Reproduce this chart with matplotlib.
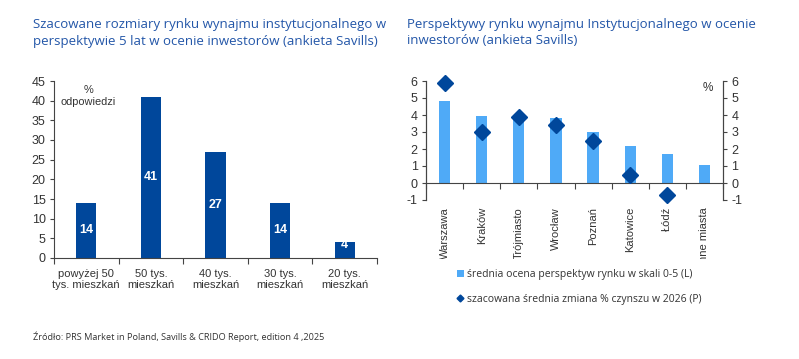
import matplotlib
matplotlib.use("Agg")
import matplotlib.pyplot as plt
from matplotlib.lines import Line2D
from matplotlib.patches import Patch
from matplotlib.transforms import Bbox, TransformedBbox, ScaledTranslation

# ---- data ----
left_categories = ["powyżej 50\ntys. mieszkań", "50 tys.\nmieszkań", "40 tys.\nmieszkań",
                   "30 tys.\nmieszkań", "20 tys.\nmieszkań"]
left_values = [14, 41, 27, 14, 4]
left_yticks = [0, 5, 10, 15, 20, 25, 30, 35, 40, 45]

right_categories = ["Warszawa", "Kraków", "Trójmiasto", "Wrocław", "Poznań",
                    "Katowice", "Łódź", "Inne miasta"]
right_scores = [4.85, 3.95, 3.8, 3.82, 2.98, 2.15, 1.73, 1.07]
right_rent_change = [5.88, 2.98, 3.88, 3.4, 2.48, 0.48, -0.7, None]
right_yticks = [-1, 0, 1, 2, 3, 4, 5, 6]

title_left = "Szacowane rozmiary rynku wynajmu instytucjonalnego w\nperspektywie 5 lat w ocenie inwestorów (ankieta Savills)"
title_right = "Perspektywy rynku wynajmu Instytucjonalnego w ocenie\ninwestorów (ankieta Savills)"
legend_labels = ["średnia ocena perspektyw rynku w skali 0-5 (L)",
                 "szacowana średnia zmiana % czynszu w 2026 (P)"]
source_text = "Źródło: PRS Market in Poland, Savills & CRIDO Report, edition 4 ,2025"

# ---- style ----
DARK = "#00479b"
LIGHT = "#4faaf7"
TITLE_C = "#2356a8"
TXT = "#333333"
AX = "#444444"
TFONT = ["Open Sans", "DejaVu Sans"]
NFONT = ["Liberation Sans", "DejaVu Sans"]

W, H = 799, 359
fig = plt.figure(figsize=(W / 100, H / 100), dpi=100)

def fx(px):
    return px / W

def fy(py):
    return 1 - py / H

# titles
fig.text(fx(33), fy(18), title_left, ha="left", va="top", fontsize=9.5,
         color=TITLE_C, family=TFONT, linespacing=1.35)
fig.text(fx(407), fy(18), title_right, ha="left", va="top", fontsize=9.5,
         color=TITLE_C, family=TFONT, linespacing=1.35)

# ---- left chart ----
ax1 = fig.add_axes([fx(54), fy(258), fx(377) - fx(54), fy(81) - fy(258)])
xs = list(range(len(left_values)))
ax1.bar(xs, left_values, width=0.31, color=DARK, zorder=2)
for x, v in zip(xs, left_values):
    ax1.text(x, max(v / 2, 3.2), str(v), ha="center", va="center", color="white",
             fontsize=9, fontweight="bold", family=NFONT)
ax1.set_xlim(-0.5, len(left_values) - 0.5)
ax1.set_ylim(0, 45)
ax1.set_yticks(left_yticks)
ax1.set_yticklabels([str(t) for t in left_yticks], family=NFONT, fontsize=9, color=TXT)
ax1.set_xticks([i + 0.5 for i in range(-1, len(left_values))])
ax1.set_xticklabels([])
ax1.set_xticks(xs, minor=True)
ax1.set_xticklabels(left_categories, minor=True, family=NFONT, fontsize=8,
                    color=TXT, linespacing=1.1)
ax1.tick_params(axis="x", which="minor", length=0, pad=8)
ax1.tick_params(axis="x", which="major", length=4, color=AX, direction="out")
ax1.tick_params(axis="y", length=3, color=AX, direction="out", pad=3)
for s in ["top", "right"]:
    ax1.spines[s].set_visible(False)
for s in ["left", "bottom"]:
    ax1.spines[s].set_color(AX)
    ax1.spines[s].set_linewidth(0.8)
ax1.text(0.03, 41.3, "%\nodpowiedzi", ha="center", va="center", fontsize=7.9,
         color=TXT, family=NFONT, linespacing=1.25)

# ---- right chart ----
ax2 = fig.add_axes([fx(426), fy(200), fx(723) - fx(426), fy(81) - fy(200)])
xr = list(range(len(right_categories)))
ax2.bar(xr, right_scores, width=0.3, color=LIGHT, zorder=2)
ax3 = ax2.twinx()
pts = [(x, v) for x, v in zip(xr, right_rent_change) if v is not None]
ax3.plot([p[0] for p in pts], [p[1] for p in pts], linestyle="none", marker="D",
         markersize=8, color=DARK, zorder=3, clip_on=False)
for a in (ax2, ax3):
    a.set_ylim(-1, 6)
    a.set_yticks(right_yticks)
    a.set_xlim(-0.5, len(right_categories) - 0.5)
ax2.set_yticklabels([str(t) for t in right_yticks], family=NFONT, fontsize=9, color=TXT)
ax3.set_yticklabels([str(t) for t in right_yticks], family=NFONT, fontsize=9, color=TXT)
ax2.tick_params(axis="y", length=3, color=AX, direction="out", pad=3)
ax3.tick_params(axis="y", length=3, color=AX, direction="out", pad=3)
ax2.spines["bottom"].set_position(("data", 0))
for a in (ax2, ax3):
    a.spines["top"].set_visible(False)
    for s in ["left", "right", "bottom"]:
        a.spines[s].set_color(AX)
        a.spines[s].set_linewidth(0.8)
ax3.spines["bottom"].set_visible(False)
ax2.set_xticks([i + 0.5 for i in range(-1, len(right_categories))])
ax2.set_xticklabels([])
ax2.tick_params(axis="x", length=4, color=AX, direction="out")
label_tr = ax2.transData + ScaledTranslation(0, -5 / 72, fig.dpi_scale_trans)
clipbox = TransformedBbox(Bbox.from_extents(0, fy(259), 1, 1), fig.transFigure)
for x, lab in zip(xr, right_categories):
    t = ax2.text(x, -1, lab, rotation=90, ha="center", va="top", fontsize=8,
                 color=TXT, family=NFONT, transform=label_tr)
    t.set_clip_box(clipbox)
    t.set_clip_on(True)
ax3.text(7.1, 5.6, "%", ha="center", va="center", fontsize=8.5, color=TXT,
         family=NFONT)

# legend
handles = [Patch(facecolor=LIGHT, edgecolor="none"),
           Line2D([], [], linestyle="none", marker="D", markersize=3.5, color=DARK)]
fig.legend(handles, legend_labels, loc="upper left", bbox_to_anchor=(fx(457), fy(269)),
           frameon=False, prop={"family": TFONT, "size": 7.5}, labelcolor=TXT,
           handlelength=0.65, handleheight=0.75, handletextpad=0.3, labelspacing=1.3,
           borderaxespad=0, borderpad=0)

fig.text(fx(33), fy(337), source_text, ha="left", va="center", fontsize=6.6,
         color=TXT, family=TFONT)

fig.savefig("out.png", dpi=100)
